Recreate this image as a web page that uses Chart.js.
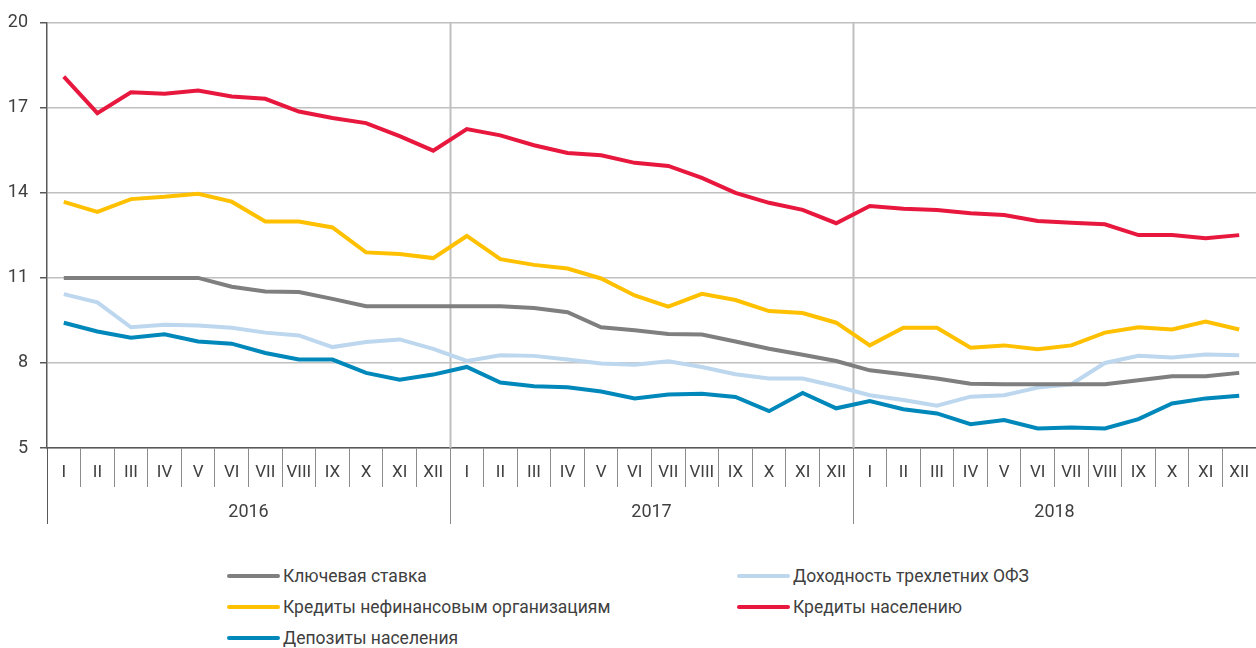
<!DOCTYPE html>
<html>
<head>
<meta charset="utf-8">
<script src="https://cdn.jsdelivr.net/npm/chart.js@4"></script>
<style>
  body { margin: 0; background: #fff; font-family: Roboto, "Noto Sans", sans-serif; color: #404040; }
  #wrap { position: relative; width: 1256px; height: 530px; }
  #legend { position: relative; width: 1256px; height: 118px; }
  .item { position: absolute; display: flex; align-items: center; font-size: 17.5px; white-space: nowrap; }
  .item i { display: inline-block; width: 53px; height: 4px; margin-right: 3px; border-radius: 2px; }
</style>
</head>
<body>
<div id="wrap"><canvas id="ratesChart"></canvas></div>
<div id="legend"></div>
<script>
const months = ["I", "II", "III", "IV", "V", "VI", "VII", "VIII", "IX", "X", "XI", "XII"];
const years = ["2016", "2017", "2018"];
const labels = [].concat(months, months, months);

const keyRate = [11, 11, 11, 11, 11, 10.69, 10.52, 10.5, 10.26, 10.0, 10.0, 10.0,
  10.0, 10.0, 9.94, 9.79, 9.26, 9.15, 9.02, 9.0, 8.76, 8.5, 8.29, 8.07,
  7.74, 7.6, 7.45, 7.27, 7.25, 7.25, 7.25, 7.25, 7.39, 7.53, 7.53, 7.65];
const ofz3y = [10.43, 10.14, 9.26, 9.35, 9.32, 9.24, 9.07, 8.97, 8.56, 8.74, 8.83, 8.5,
  8.07, 8.27, 8.25, 8.12, 7.98, 7.94, 8.06, 7.86, 7.6, 7.45, 7.45, 7.18,
  6.86, 6.69, 6.49, 6.81, 6.86, 7.13, 7.25, 8.0, 8.25, 8.19, 8.3, 8.27];
const corpLoans = [13.68, 13.33, 13.78, 13.86, 13.97, 13.69, 12.99, 12.99, 12.78, 11.9, 11.84, 11.7,
  12.48, 11.66, 11.46, 11.33, 10.98, 10.38, 9.99, 10.44, 10.22, 9.83, 9.76, 9.42,
  8.62, 9.24, 9.24, 8.54, 8.62, 8.48, 8.62, 9.07, 9.26, 9.18, 9.46, 9.18];
const householdLoans = [18.1, 16.81, 17.55, 17.5, 17.61, 17.4, 17.32, 16.87, 16.64, 16.46, 16.0, 15.49,
  16.25, 16.03, 15.68, 15.41, 15.33, 15.06, 14.95, 14.53, 14.0, 13.65, 13.4, 12.93,
  13.54, 13.44, 13.4, 13.28, 13.22, 13.01, 12.95, 12.89, 12.51, 12.51, 12.4, 12.51];
const deposits = [9.42, 9.11, 8.89, 9.01, 8.76, 8.68, 8.35, 8.12, 8.12, 7.65, 7.41, 7.59,
  7.86, 7.31, 7.18, 7.14, 6.99, 6.75, 6.89, 6.91, 6.8, 6.3, 6.94, 6.4,
  6.66, 6.37, 6.22, 5.84, 5.99, 5.69, 5.72, 5.69, 6.02, 6.57, 6.75, 6.84];

const series = [
  { label: "Ключевая ставка", data: keyRate, color: "#7f7f7f", left: 227, top: 566 },
  { label: "Доходность трехлетних ОФЗ", data: ofz3y, color: "#bdd7ee", left: 737, top: 566 },
  { label: "Кредиты нефинансовым организациям", data: corpLoans, color: "#ffc000", left: 227, top: 597 },
  { label: "Кредиты населению", data: householdLoans, color: "#e8173d", left: 737, top: 597 },
  { label: "Депозиты населения", data: deposits, color: "#0088bb", left: 227, top: 628 }
];

const FONT = "Roboto, 'Noto Sans', sans-serif";
const TEXT = "#404040";

// year separators and year captions under the month row
const yearAxis = {
  id: "yearAxis",
  beforeDatasetsDraw(chart) {
    const { ctx, chartArea } = chart;
    const x = chart.scales.x;
    const bottom = 524;
    const edge = i => (x.getPixelForValue(i - 1) + x.getPixelForValue(i)) / 2;
    ctx.save();
    [12, 24].forEach(i => {
      const px = Math.round(edge(i)) + 0.5;
      ctx.strokeStyle = "#bfbfbf";
      ctx.lineWidth = 2;
      ctx.beginPath();
      ctx.moveTo(px, chartArea.top);
      ctx.lineTo(px, chartArea.bottom);
      ctx.stroke();
      ctx.strokeStyle = "#8c8c8c";
      ctx.lineWidth = 1;
      ctx.beginPath();
      ctx.moveTo(px, chartArea.bottom);
      ctx.lineTo(px, bottom);
      ctx.stroke();
    });
    ctx.strokeStyle = "#595959";
    ctx.lineWidth = 1;
    ctx.beginPath();
    ctx.moveTo(chartArea.left + 0.5, chartArea.bottom);
    ctx.lineTo(chartArea.left + 0.5, bottom);
    ctx.stroke();

    ctx.fillStyle = TEXT;
    ctx.font = "18px " + FONT;
    ctx.textAlign = "center";
    ctx.textBaseline = "middle";
    years.forEach((y, k) => {
      const cx = (x.getPixelForValue(k * 12) + x.getPixelForValue(k * 12 + 11)) / 2;
      ctx.fillText(y, cx, 512);
    });
    ctx.restore();
  }
};

new Chart(document.getElementById("ratesChart"), {
  type: "line",
  data: {
    labels: labels,
    datasets: series.map(s => ({
      label: s.label,
      data: s.data,
      borderColor: s.color,
      backgroundColor: s.color,
      borderWidth: 4,
      pointRadius: 0,
      tension: 0
    }))
  },
  options: {
    responsive: true,
    maintainAspectRatio: false,
    animation: false,
    layout: { padding: { top: 21, right: 0, left: 0, bottom: 0 } },
    plugins: { legend: { display: false }, tooltip: { enabled: false } },
    scales: {
      x: {
        type: "category",
        offset: true,
        afterFit: scale => { scale.height = 82; },
        grid: { offset: true, drawOnChartArea: false, drawTicks: true, tickLength: 39, color: "#8c8c8c", lineWidth: 1 },
        border: { color: "#595959", width: 1.5 },
        ticks: { autoSkip: false, maxRotation: 0, padding: -24, color: TEXT, font: { family: FONT, size: 17 } }
      },
      y: {
        min: 5,
        max: 20,
        afterFit: scale => { scale.width = 47; },
        ticks: { stepSize: 3, padding: 12, color: TEXT, font: { family: FONT, size: 18 } },
        grid: { color: "#c0c0c0", lineWidth: 1.5, tickLength: 7, tickColor: "#595959" },
        border: { color: "#595959", width: 1.5 }
      }
    }
  },
  plugins: [yearAxis]
});

const legend = document.getElementById("legend");
series.forEach(s => {
  const el = document.createElement("div");
  el.className = "item";
  el.style.left = s.left + "px";
  el.style.top = (s.top - 530) + "px";
  el.innerHTML = `<i style="background:${s.color}"></i>${s.label}`;
  legend.appendChild(el);
});
</script>
</body>
</html>
